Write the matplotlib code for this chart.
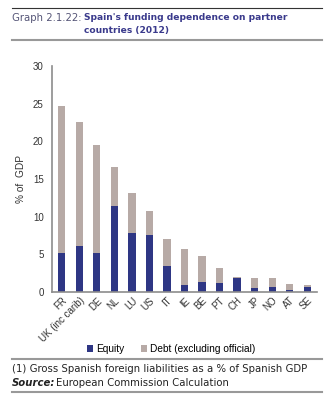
import matplotlib
matplotlib.use("Agg")
from matplotlib import pyplot as plt
from matplotlib.lines import Line2D
import numpy as np

plt.rcParams['font.family'] = ['Liberation Sans', 'DejaVu Sans']

# data (% of GDP)
countries = ['FR', 'UK (inc carib)', 'DE', 'NL', 'LU', 'US', 'IT', 'IE', 'BE',
             'PT', 'CH', 'JP', 'NO', 'AT', 'SE']
total = [24.7, 22.6, 19.5, 16.6, 13.2, 10.7, 7.0, 5.7, 4.8, 3.2, 2.05, 1.9, 1.8, 1.0, 0.9]
equity = [5.2, 6.1, 5.2, 11.4, 7.8, 7.6, 3.4, 0.95, 1.35, 1.25, 1.8, 0.5, 0.67, 0.2, 0.6]
debt = [t - e for t, e in zip(total, equity)]

navy = '#2e3684'
grey = '#b7aaa6'
axis_grey = '#8c8c8c'
wide = ['DejaVu Sans']

fig = plt.figure(figsize=(3.36, 3.99), dpi=100)
ax = fig.add_axes([52 / 336, 1 - 292 / 399, 265 / 336, 226 / 399])

x = np.arange(len(countries))
ax.bar(x, equity, width=0.42, color=navy, label='Equity')
ax.bar(x, debt, width=0.42, bottom=equity, color=grey, label='Debt (excluding official)')

ax.set_ylim(0, 30)
ax.set_xlim(-0.55, len(countries) - 0.45)
ax.set_yticks([0, 5, 10, 15, 20, 25, 30])
ax.set_xticks(x)
ax.set_xticklabels(countries, rotation=45, ha='right', rotation_mode='anchor')
ax.tick_params(axis='both', length=0, labelsize=7, colors='#333333', pad=6)
ax.tick_params(axis='x', pad=2.5)
ax.set_ylabel('% of  GDP', fontsize=7.3, color='#333333', labelpad=5)

for s in ['top', 'right']:
    ax.spines[s].set_visible(False)
for s in ['left', 'bottom']:
    ax.spines[s].set_color(axis_grey)
    ax.spines[s].set_linewidth(1.2)

ax.legend(loc='center', bbox_to_anchor=(0.45, -0.253), ncol=2, frameon=False,
          fontsize=7.3, handlelength=0.6, handleheight=0.6, handletextpad=0.3,
          columnspacing=1.6)

# header and footer rules
fig.add_artist(Line2D([12 / 336, 322 / 336], [1 - 8 / 399] * 2, color='#333333', lw=0.8))
fig.add_artist(Line2D([12 / 336, 322 / 336], [1 - 40 / 399] * 2, color='#999999', lw=1.5))
fig.add_artist(Line2D([12 / 336, 322 / 336], [1 - 359 / 399] * 2, color='#999999', lw=1.5))
fig.add_artist(Line2D([12 / 336, 322 / 336], [1 - 392 / 399] * 2, color='#999999', lw=1.5))

# title
fig.text(12 / 336, 1 - 18 / 399, 'Graph 2.1.22:', fontsize=7.3, color='#555577',
         va='center', family=wide)
fig.text(84 / 336, 1 - 18 / 399, "Spain's funding dependence on partner",
         fontsize=6.6, color='#3a3a8c', fontweight='bold', va='center', family=wide)
fig.text(84 / 336, 1 - 31 / 399, 'countries (2012)',
         fontsize=6.6, color='#3a3a8c', fontweight='bold', va='center', family=wide)

# footnote
fig.text(12 / 336, 1 - 369 / 399, '(1) Gross Spanish foreign liabilities as a % of Spanish GDP',
         fontsize=7.25, color='#222222', va='center', family=wide)
fig.text(12 / 336, 1 - 383 / 399, 'Source:', fontsize=7.25, color='#222222',
         fontweight='bold', style='italic', va='center', family=wide)
fig.text(56 / 336, 1 - 383 / 399, 'European Commission Calculation',
         fontsize=7.3, color='#222222', va='center', family=wide)

fig.savefig('out.png', dpi=100)
